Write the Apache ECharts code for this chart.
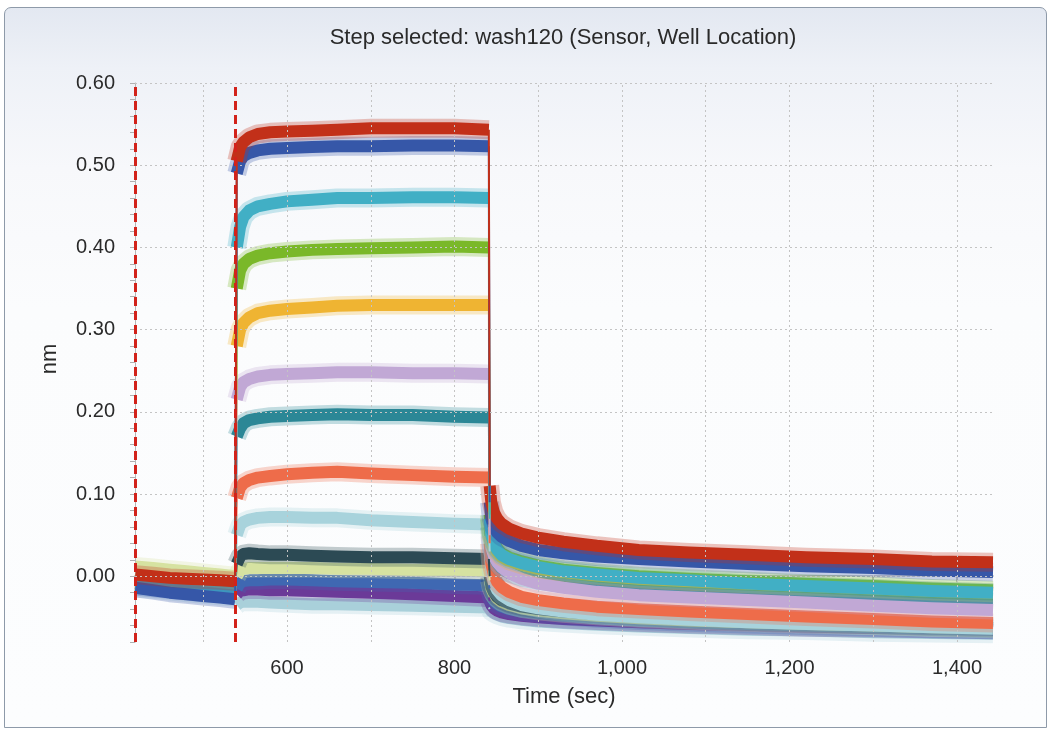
<!DOCTYPE html>
<html><head><meta charset="utf-8">
<script src="https://cdn.jsdelivr.net/npm/echarts@6/dist/echarts.min.js"></script>
<style>
html,body{margin:0;padding:0;width:1052px;height:729px;overflow:hidden;background:#ffffff;}
#panel{position:absolute;left:4px;top:7px;width:1041px;height:719px;border:1px solid #8e9aa9;border-radius:7px 7px 0 0;
background:linear-gradient(to bottom,#e3e8f1 0px,#eef1f7 60px,#f7f8fb 160px,#fbfcfd 300px,#fcfdfe 100%);}
#chart{position:absolute;left:0;top:0;width:1052px;height:729px;}
</style></head><body><div id="panel"></div><div id="chart"></div>
<script>
// ---------- time grids (sec) ----------
const baseT  = [419, 440, 460, 480, 500, 520, 538];
const assocT = [540, 544, 548, 555, 565, 580, 600, 630, 660, 700, 750, 800, 841];
const dissT  = [842, 844, 847, 851, 856, 865, 880, 900, 930, 970, 1020, 1080, 1150, 1220, 1300, 1370, 1443];

// ---------- tick values ----------
const xTickValues  = [500, 600, 700, 800, 900, 1000, 1100, 1200, 1300, 1400];
const xLabelValues = [600, 800, 1000, 1200, 1400];
const yLabelValues = [0.0, 0.1, 0.2, 0.3, 0.4, 0.5, 0.6];
const yTickValues  = [-0.08, -0.06, -0.04, -0.02, 0.0, 0.02, 0.04, 0.06, 0.08, 0.1, 0.12, 0.14, 0.16, 0.18, 0.2,
                      0.22, 0.24, 0.26, 0.28, 0.3, 0.32, 0.34, 0.36, 0.38, 0.4, 0.42, 0.44, 0.46, 0.48, 0.5,
                      0.52, 0.54, 0.56, 0.58, 0.6];
const stepMarkers  = [418.6, 537.8];

// ---------- series values (nm) ----------
const baseLightBlue2  = [-0.014, -0.016, -0.018, -0.020, -0.022, -0.024, -0.025];
const assocLightBlue2 = [-0.035, -0.032, -0.031, -0.031, -0.031, -0.032, -0.033, -0.034, -0.034, -0.035, -0.036, -0.037, -0.038];
const dissLightBlue2  = [-0.040, -0.043, -0.045, -0.047, -0.049, -0.051, -0.053, -0.055, -0.057, -0.059, -0.061, -0.063, -0.065, -0.066, -0.068, -0.069, -0.070];

const basePurple  = [-0.008, -0.010, -0.011, -0.013, -0.014, -0.015, -0.016];
const assocPurple = [-0.022, -0.018, -0.017, -0.016, -0.016, -0.017, -0.017, -0.018, -0.019, -0.020, -0.022, -0.024, -0.026];
const dissPurple  = [-0.030, -0.035, -0.039, -0.042, -0.044, -0.046, -0.048, -0.050, -0.052, -0.054, -0.056, -0.058, -0.060, -0.062, -0.063, -0.064, -0.065];

const baseMedBlue  = [-0.012, -0.014, -0.016, -0.018, -0.020, -0.021, -0.022];
const assocMedBlue = [-0.015, -0.008, -0.006, -0.005, -0.005, -0.004, -0.004, -0.005, -0.006, -0.007, -0.008, -0.010, -0.011];
const dissMedBlue  = [-0.015, -0.024, -0.030, -0.034, -0.037, -0.040, -0.043, -0.045, -0.048, -0.051, -0.054, -0.056, -0.058, -0.060, -0.062, -0.064, -0.065];

const basePaleGreen  = [0.012, 0.010, 0.008, 0.006, 0.004, 0.002, 0.000];
const assocPaleGreen = [0.000, 0.007, 0.009, 0.010, 0.010, 0.010, 0.010, 0.010, 0.009, 0.009, 0.008, 0.008, 0.007];
const dissPaleGreen  = [-0.005, -0.015, -0.022, -0.027, -0.031, -0.035, -0.039, -0.042, -0.045, -0.048, -0.051, -0.054, -0.056, -0.058, -0.060, -0.062, -0.063];

const baseDarkSlate  = [-0.006, -0.008, -0.010, -0.011, -0.013, -0.014, -0.015];
const assocDarkSlate = [0.015, 0.024, 0.027, 0.028, 0.027, 0.026, 0.026, 0.025, 0.024, 0.023, 0.023, 0.022, 0.021];
const dissDarkSlate  = [0.000, -0.012, -0.019, -0.025, -0.029, -0.033, -0.037, -0.040, -0.043, -0.046, -0.049, -0.052, -0.055, -0.057, -0.059, -0.061, -0.063];

const baseLightBlue1  = [-0.010, -0.012, -0.013, -0.015, -0.016, -0.018, -0.019];
const assocLightBlue1 = [0.050, 0.062, 0.066, 0.069, 0.071, 0.072, 0.072, 0.071, 0.071, 0.068, 0.066, 0.064, 0.063];
const dissLightBlue1  = [0.030, 0.005, -0.008, -0.017, -0.023, -0.029, -0.035, -0.039, -0.043, -0.047, -0.050, -0.053, -0.056, -0.058, -0.060, -0.062, -0.064];

const baseCoral  = [-0.004, -0.006, -0.008, -0.009, -0.011, -0.012, -0.013];
const assocCoral = [0.095, 0.108, 0.113, 0.117, 0.120, 0.122, 0.124, 0.126, 0.127, 0.125, 0.123, 0.121, 0.120];
const dissCoral  = [0.040, 0.015, 0.002, -0.007, -0.013, -0.019, -0.025, -0.029, -0.033, -0.037, -0.040, -0.043, -0.046, -0.049, -0.052, -0.055, -0.057];

const baseTeal  = [-0.010, -0.012, -0.014, -0.016, -0.017, -0.019, -0.020];
const assocTeal = [0.170, 0.180, 0.186, 0.190, 0.192, 0.194, 0.195, 0.196, 0.197, 0.196, 0.196, 0.194, 0.193];
const dissTeal  = [0.060, 0.035, 0.024, 0.016, 0.010, 0.004, -0.001, -0.005, -0.009, -0.012, -0.015, -0.017, -0.020, -0.022, -0.024, -0.026, -0.027];

const baseLavender  = [-0.008, -0.010, -0.012, -0.013, -0.015, -0.016, -0.017];
const assocLavender = [0.215, 0.230, 0.236, 0.240, 0.243, 0.245, 0.246, 0.247, 0.248, 0.248, 0.247, 0.247, 0.246];
const dissLavender  = [0.050, 0.035, 0.025, 0.017, 0.011, 0.004, -0.003, -0.009, -0.014, -0.019, -0.023, -0.026, -0.029, -0.032, -0.036, -0.039, -0.041];

const baseYellow  = [-0.006, -0.008, -0.010, -0.012, -0.013, -0.015, -0.016];
const assocYellow = [0.280, 0.300, 0.308, 0.315, 0.320, 0.323, 0.325, 0.327, 0.329, 0.330, 0.330, 0.330, 0.330];
const dissYellow  = [0.070, 0.048, 0.038, 0.030, 0.024, 0.019, 0.014, 0.009, 0.005, 0.001, -0.003, -0.006, -0.009, -0.012, -0.015, -0.018, -0.020];

const baseGreen  = [-0.004, -0.006, -0.008, -0.010, -0.012, -0.013, -0.014];
const assocGreen = [0.350, 0.372, 0.380, 0.386, 0.390, 0.393, 0.395, 0.397, 0.398, 0.399, 0.400, 0.401, 0.400];
const dissGreen  = [0.075, 0.052, 0.042, 0.034, 0.028, 0.023, 0.018, 0.013, 0.008, 0.004, 0.000, -0.003, -0.006, -0.009, -0.012, -0.015, -0.017];

const baseCyan  = [-0.008, -0.010, -0.012, -0.014, -0.016, -0.018, -0.019];
const assocCyan = [0.400, 0.425, 0.437, 0.445, 0.450, 0.453, 0.456, 0.458, 0.460, 0.460, 0.461, 0.461, 0.460];
const dissCyan  = [0.070, 0.050, 0.040, 0.032, 0.026, 0.021, 0.016, 0.011, 0.006, 0.002, -0.002, -0.005, -0.009, -0.012, -0.015, -0.018, -0.020];

const baseDarkBlue  = [-0.014, -0.017, -0.020, -0.022, -0.024, -0.026, -0.028];
const assocDarkBlue = [0.490, 0.505, 0.511, 0.515, 0.518, 0.520, 0.521, 0.522, 0.523, 0.523, 0.524, 0.524, 0.523];
const dissDarkBlue  = [0.090, 0.070, 0.060, 0.053, 0.048, 0.043, 0.037, 0.032, 0.028, 0.024, 0.021, 0.018, 0.015, 0.012, 0.010, 0.007, 0.005];

const baseRed  = [0.002, 0.000, -0.002, -0.003, -0.004, -0.005, -0.006];
const assocRed = [0.505, 0.522, 0.528, 0.534, 0.538, 0.540, 0.541, 0.542, 0.543, 0.545, 0.545, 0.545, 0.543];
const dissRed  = [0.110, 0.090, 0.078, 0.070, 0.064, 0.058, 0.052, 0.047, 0.042, 0.037, 0.032, 0.029, 0.026, 0.023, 0.021, 0.018, 0.017];

// drawing order (first = bottom)
const curves = [
  ['#a9d0da', baseLightBlue2, assocLightBlue2, dissLightBlue2],
  ['#6b3a98', basePurple, assocPurple, dissPurple],
  ['#3f68b2', baseMedBlue, assocMedBlue, dissMedBlue],
  ['#d6e2a1', basePaleGreen, assocPaleGreen, dissPaleGreen],
  ['#2c4a54', baseDarkSlate, assocDarkSlate, dissDarkSlate],
  ['#a8d3dc', baseLightBlue1, assocLightBlue1, dissLightBlue1],
  ['#ee6c4a', baseCoral, assocCoral, dissCoral],
  ['#2b8796', baseTeal, assocTeal, dissTeal],
  ['#c1a8d5', baseLavender, assocLavender, dissLavender],
  ['#efb432', baseYellow, assocYellow, dissYellow],
  ['#7ab829', baseGreen, assocGreen, dissGreen],
  ['#41afc5', baseCyan, assocCyan, dissCyan],
  ['#3657a8', baseDarkBlue, assocDarkBlue, dissDarkBlue],
  ['#c23019', baseRed, assocRed, dissRed]
];

const zip = (t, v) => t.map((x, i) => [x, v[i]]);
const FONT = "'Liberation Sans', Arial, sans-serif";
const CORE = 12;
const HALO = 19;

const series = [];
// grid lines (dotted)
series.push({
  type: 'line', data: [], silent: true,
  markLine: {
    silent: true, symbol: 'none', animation: false, label: { show: false },
    lineStyle: { color: '#c4c4c4', type: [2, 3], width: 1 },
    data: xTickValues.map(v => ({ xAxis: v })).concat(yLabelValues.map(v => ({ yAxis: v })))
  }
});
// noisy bands: faint halo (spike envelope) + solid core
curves.forEach(c => {
  const [color, b, a, d] = c;
  [[baseT, b], [assocT, a], [dissT, d]].forEach(([t, v]) => {
    series.push({
      type: 'line', data: zip(t, v), showSymbol: false, symbol: 'none', silent: true,
      lineStyle: { color: color, width: HALO, opacity: 0.28, join: 'round' }, z: 2
    });
    series.push({
      type: 'line', data: zip(t, v), showSymbol: false, symbol: 'none', silent: true,
      lineStyle: { color: color, width: CORE, join: 'round' }, z: 2
    });
  });
});
// thin transitions
curves.forEach(c => {
  const [color, b, a, d] = c;
  series.push({
    type: 'line', showSymbol: false, symbol: 'none', silent: true, connectNulls: false,
    data: [[baseT[baseT.length - 1], b[b.length - 1]], [assocT[0], a[0]], [600, '-'],
           [assocT[assocT.length - 1], a[a.length - 1]], [dissT[0], d[0]]],
    lineStyle: { color: color, width: 2 }, z: 3
  });
});
// step markers
series.push({
  type: 'line', data: [], silent: true, z: 5,
  markLine: {
    silent: true, symbol: 'none', animation: false, label: { show: false },
    lineStyle: { color: '#d2221a', type: [9, 5], width: 3 },
    data: stepMarkers.map(v => ({ xAxis: v }))
  }
});

const chart = echarts.init(document.getElementById('chart'), null, { renderer: 'canvas' });
chart.setOption({
  animation: false,
  backgroundColor: 'transparent',
  grid: { left: 135, top: 83, right: 59, bottom: 87, containLabel: false },
  graphic: [
    { type: 'text', x: 563, y: 38,
      style: { text: 'Step selected: wash120 (Sensor, Well Location)', align: 'center', verticalAlign: 'middle',
               font: "22px 'Liberation Sans', Arial, sans-serif", fill: '#2a2a2a' } },
    { type: 'text', x: 50, y: 359, rotation: Math.PI / 2,
      style: { text: 'nm', align: 'center', verticalAlign: 'middle',
               font: "22px 'Liberation Sans', Arial, sans-serif", fill: '#2a2a2a' } }
  ],
  xAxis: {
    type: 'value', min: 418.5, max: 1443,
    name: 'Time (sec)', nameLocation: 'middle', nameGap: 44,
    nameTextStyle: { fontFamily: FONT, fontSize: 22, color: '#2a2a2a' },
    axisLine: { show: true, lineStyle: { color: '#c9c9c9', width: 2 } },
    axisTick: { show: true, customValues: xTickValues, length: 6, lineStyle: { color: '#c0c0c0', width: 2 } },
    axisLabel: { customValues: xLabelValues, margin: 16, fontFamily: FONT, fontSize: 20, color: '#2a2a2a',
                 formatter: v => Number(v).toLocaleString('en-US') },
    splitLine: { show: false }
  },
  yAxis: {
    type: 'value', min: -0.08, max: 0.6,
    axisLine: { show: true, lineStyle: { color: '#b5b5b5', width: 1 } },
    axisTick: { show: true, customValues: yTickValues, length: 5, lineStyle: { color: '#b0b0b0' } },
    axisLabel: { customValues: yLabelValues, margin: 20, fontFamily: FONT, fontSize: 20, color: '#2a2a2a',
                 formatter: v => Number(v).toFixed(2) },
    splitLine: { show: false }
  },
  series: series
});
</script>
</body></html>
